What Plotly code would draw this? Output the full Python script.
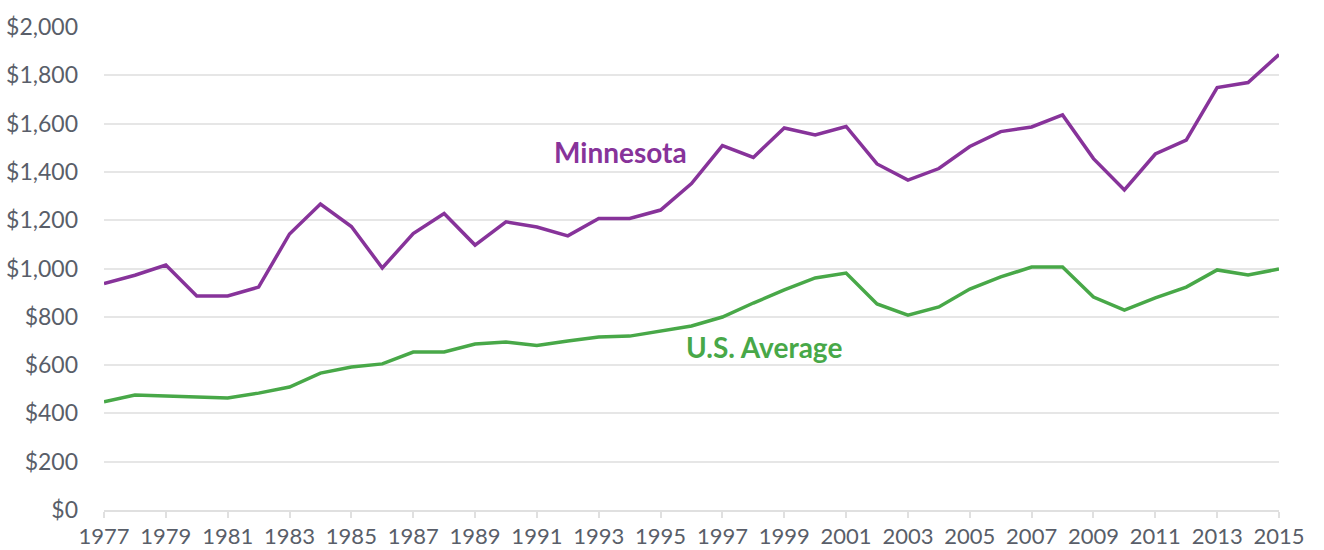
import plotly.graph_objects as go

years = list(range(1977, 2016))
minnesota = [938, 972, 1014, 886, 886, 923, 1143, 1267, 1174, 1002, 1145, 1228, 1097, 1193, 1172, 1135,
             1207, 1207, 1242, 1352, 1509, 1460, 1582, 1553, 1588, 1433, 1366, 1414, 1505, 1567, 1586, 1636,
             1455, 1325, 1474, 1532, 1749, 1770, 1886]
us_average = [448, 476, 472, 468, 464, 484, 509, 567, 592, 605, 654, 654, 687, 696, 681, 700,
              716, 720, 741, 762, 799, 857, 911, 961, 981, 853, 807, 841, 915, 965, 1006, 1006,
              882, 828, 878, 923, 994, 973, 998]
y_ticks = [0, 200, 400, 600, 800, 1000, 1200, 1400, 1600, 1800, 2000]
x_ticks = list(range(1977, 2016, 2))

purple = "#87339a"
green = "#48a848"
font = "Lato, 'Open Sans', sans-serif"
tick_color = "#595e69"

fig = go.Figure()
fig.add_trace(go.Scatter(x=years, y=minnesota, mode="lines", name="Minnesota",
                         line=dict(color=purple, width=3.5), hoverinfo="x+y"))
fig.add_trace(go.Scatter(x=years, y=us_average, mode="lines", name="U.S. Average",
                         line=dict(color=green, width=3.5), hoverinfo="x+y"))

fig.add_annotation(x=1993.7, y=1482, text="<b>Minnesota</b>", showarrow=False,
                   font=dict(family=font, size=28, color=purple))
fig.add_annotation(x=1998.35, y=675, text="<b>U.S. Average</b>", showarrow=False,
                   font=dict(family=font, size=28, color=green))

fig.update_layout(
    width=1324, height=550,
    margin=dict(l=104, r=45, t=27, b=40),
    paper_bgcolor="white", plot_bgcolor="white",
    showlegend=False,
    font=dict(family=font, size=22, color=tick_color),
    xaxis=dict(range=[1977, 2015], tickvals=x_ticks, ticktext=[str(v) for v in x_ticks],
               showgrid=False, zeroline=False, showline=True, linecolor="#e0e0e0", linewidth=1.5,
               ticks="outside", ticklen=6, tickcolor="#e0e0e0", tickwidth=1.5, automargin=False,
               tickfont=dict(size=22, color=tick_color)),
    yaxis=dict(range=[0, 2000], tickvals=y_ticks, ticktext=["${:,}".format(v) for v in y_ticks],
               showgrid=True, gridcolor="#e6e6e6", gridwidth=1.5, zeroline=False, showline=False,
               ticks="", ticklabelstandoff=25, automargin=False,
               tickfont=dict(size=23, color=tick_color)),
)

fig.write_html("out.html", config={"displayModeBar": False},
               post_script="document.body.style.margin='0';document.body.style.overflow='hidden';")
